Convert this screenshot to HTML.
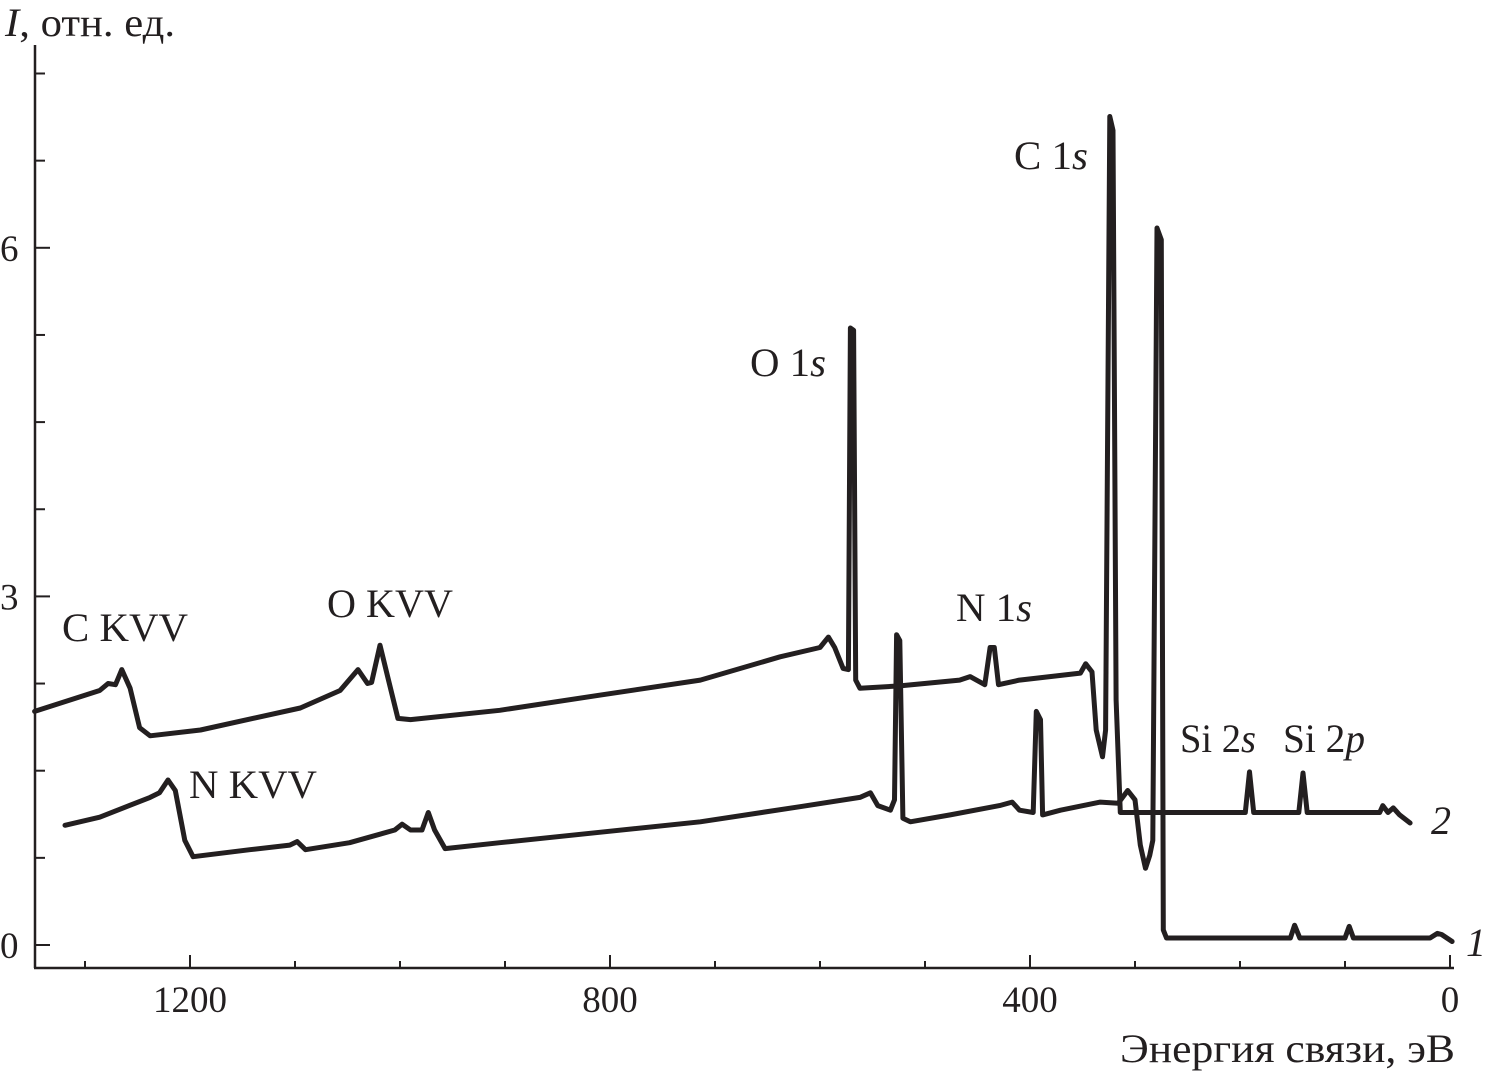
<!DOCTYPE html>
<html><head><meta charset="utf-8"><style>
html,body{margin:0;padding:0;background:#fff;}
svg{display:block;font-family:"Liberation Serif",serif;}
</style></head><body>
<svg id="chart" width="1485" height="1077" viewBox="0 0 1485 1077" xmlns="http://www.w3.org/2000/svg">
<g id="axes"></g>
<g id="series"></g>
<g id="labels" fill="#231f20" font-size="40">
<text x="5" y="36" font-size="40" textLength="170" lengthAdjust="spacingAndGlyphs"><tspan font-style="italic">I</tspan>, отн. ед.</text>
<text x="1120" y="1062" font-size="40" textLength="335" lengthAdjust="spacingAndGlyphs">Энергия связи, эВ</text>
<text x="62" y="641" textLength="126" lengthAdjust="spacingAndGlyphs">C KVV</text>
<text x="327" y="617" textLength="126" lengthAdjust="spacingAndGlyphs">O KVV</text>
<text x="189" y="798" textLength="128" lengthAdjust="spacingAndGlyphs">N KVV</text>
<text x="750" y="376" textLength="76" lengthAdjust="spacingAndGlyphs">O 1<tspan font-style="italic">s</tspan></text>
<text x="1014" y="169" textLength="74" lengthAdjust="spacingAndGlyphs">C 1<tspan font-style="italic">s</tspan></text>
<text x="956" y="621" textLength="76" lengthAdjust="spacingAndGlyphs">N 1<tspan font-style="italic">s</tspan></text>
<text x="1180" y="752" textLength="76" lengthAdjust="spacingAndGlyphs">Si 2<tspan font-style="italic">s</tspan></text>
<text x="1283" y="752" textLength="82" lengthAdjust="spacingAndGlyphs">Si 2<tspan font-style="italic">p</tspan></text>
<text x="1431" y="834" font-style="italic">2</text>
<text x="1466" y="956" font-style="italic">1</text>
</g>
</svg>
<script>
const xMajorTicks = [1200, 800, 400, 0];
const xMinorTicks = [1300, 1100, 1000, 900, 700, 600, 500, 300, 200, 100];
const yMajorTicks = [0, 3, 6];
const yMinorTicks = [0.75, 1.5, 2.25, 3.75, 4.5, 5.25, 6.75, 7.5];
const energy2 = [1348,1286,1278,1271,1265,1257,1248,1238,1190,1095,1057,1040,1031,1027,1019,1011,1002,990,905,810,714,638,600,592,586,578,573,571,568,566,562,524,467,457,443,438,434,430,410,352,347,341,337,331,328,324,321,318,314,195,191,187,144,140,136,67,64,59,54,48,38];
const intensity2 = [2.01,2.19,2.25,2.24,2.37,2.21,1.87,1.80,1.85,2.04,2.19,2.37,2.25,2.26,2.58,2.28,1.95,1.94,2.02,2.15,2.28,2.48,2.56,2.65,2.56,2.38,2.37,5.31,5.29,2.28,2.21,2.23,2.28,2.31,2.24,2.56,2.56,2.24,2.28,2.34,2.42,2.35,1.85,1.62,1.85,7.13,7.01,2.11,1.14,1.14,1.49,1.14,1.14,1.48,1.14,1.14,1.20,1.14,1.18,1.12,1.05];
const energy1 = [1319,1286,1238,1229,1221,1214,1205,1197,1143,1105,1098,1090,1048,1005,998,990,979,973,967,957,905,810,714,619,562,552,545,533,529,527,524,521,514,476,429,417,410,397,394,390,388,371,333,316,307,300,295,290,286,283,279,275,273,270,152,148,143,100,96,92,19,12,8,-2];
const intensity1 = [1.03,1.10,1.27,1.31,1.42,1.33,0.90,0.76,0.82,0.86,0.89,0.82,0.88,0.99,1.04,0.99,0.99,1.14,0.99,0.83,0.88,0.97,1.06,1.19,1.27,1.31,1.20,1.16,1.25,2.67,2.62,1.09,1.06,1.12,1.20,1.23,1.16,1.14,2.01,1.94,1.12,1.16,1.23,1.22,1.33,1.25,0.86,0.66,0.77,0.90,6.17,6.07,0.13,0.06,0.06,0.17,0.06,0.06,0.16,0.06,0.06,0.10,0.09,0.03];

const NS = "http://www.w3.org/2000/svg";
const X = e => 1450 - 1.05 * e;
const Y = v => 945 - 116.2 * v;
const axes = document.getElementById('axes');
const series = document.getElementById('series');
function mk(tag, attrs, parent){
  const el = document.createElementNS(NS, tag);
  for (const k in attrs) el.setAttribute(k, attrs[k]);
  parent.appendChild(el);
  return el;
}
const col = "#231f20";
let a = mk('line', {x1:35, y1:45, x2:35, y2:968, stroke:col, 'stroke-width':2.5}, axes);


a = mk('line', {x1:34, y1:968, x2:1454, y2:968, stroke:col, 'stroke-width':2.5}, axes);


xMajorTicks.forEach(t => {
  const l = mk('line', {x1:X(t), y1:968, x2:X(t), y2:955, stroke:col, 'stroke-width':2}, axes);
  
  
  const tx = mk('text', {x:X(t), y:1012, 'text-anchor':'middle', 'font-size':37, fill:col}, axes);
  tx.textContent = t;
  
  
});
xMinorTicks.forEach(t => {
  const l = mk('line', {x1:X(t), y1:968, x2:X(t), y2:961, stroke:col, 'stroke-width':2}, axes);
  
  
});
yMajorTicks.forEach(t => {
  const l = mk('line', {x1:35, y1:Y(t), x2:50, y2:Y(t), stroke:col, 'stroke-width':2}, axes);
  
  
  const tx = mk('text', {x:0, y:Y(t)+13, 'font-size':37, fill:col}, axes);
  tx.textContent = t;
  
  
});
yMinorTicks.forEach(t => {
  const l = mk('line', {x1:35, y1:Y(t), x2:45, y2:Y(t), stroke:col, 'stroke-width':2}, axes);
  
  
});
function drawLine(es, vs, name){
  const d = es.map((e,i) => (i ? 'L' : 'M') + X(e).toFixed(1) + ' ' + Y(vs[i]).toFixed(1)).join(' ');
  const p = mk('path', {d:d, fill:'none', stroke:col, 'stroke-width':5, 'stroke-linejoin':'round', 'stroke-linecap':'round'}, series);
  
  
}
drawLine(energy1, intensity1, 'spectrum-curve-1');
drawLine(energy2, intensity2, 'spectrum-curve-2');
</script>
</body></html>
